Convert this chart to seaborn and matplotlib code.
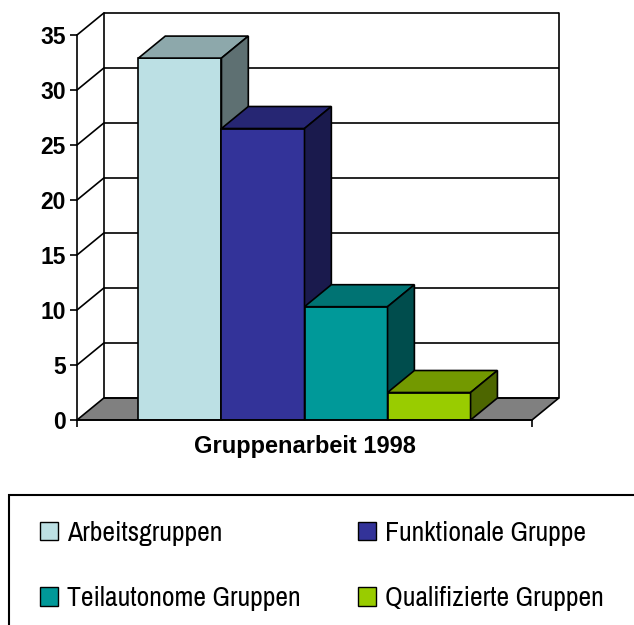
import numpy as np
import pandas as pd
import seaborn as sns
import matplotlib
matplotlib.use("Agg")
import matplotlib.pyplot as plt
from matplotlib.patches import Polygon, Patch, Rectangle
from matplotlib.colors import to_rgb

# data
category = "Gruppenarbeit 1998"
series = ["Arbeitsgruppen", "Funktionale Gruppe", "Teilautonome Gruppen", "Qualifizierte Gruppen"]
values = [32.9, 26.5, 10.3, 2.5]
y_ticks = [0, 5, 10, 15, 20, 25, 30, 35]

front_colors = ["#BCE0E4", "#333399", "#009999", "#99CC00"]

# depth of the fake 3d box in data units (x: category units, y: value units)
DX = 0.059
DY = 2.0


def shade(c, f):
    r, g, b = to_rgb(c)
    return (r * f, g * f, b * f)


def main():
    sns.set_style("white")
    plt.rcParams["font.family"] = ["Liberation Sans", "DejaVu Sans"]
    plt.rcParams["text.color"] = "black"
    plt.rcParams["xtick.color"] = "black"
    plt.rcParams["ytick.color"] = "black"

    fig = plt.figure(figsize=(6.34, 6.25), dpi=100, facecolor="white")
    ax = fig.add_axes([77 / 634, 1 - 420 / 625, 455 / 634, 385 / 625])

    df = pd.DataFrame({"cat": [category] * len(series), "series": series, "value": values})
    sns.barplot(data=df, x="cat", y="value", hue="series", hue_order=series,
                palette=front_colors, width=0.73, edgecolor="black", linewidth=1.2,
                errorbar=None, legend=False, ax=ax, saturation=1)

    ax.set_xlim(-0.5, 0.5)
    ax.set_ylim(0, 35)
    ax.set_yticks(y_ticks)
    ax.set_xlabel("")
    ax.set_ylabel("")

    lw = 1.2
    # floor of the box
    floor = Polygon([(-0.5, 0), (0.5, 0), (0.5 + DX, DY), (-0.5 + DX, DY)],
                    closed=True, facecolor="#808080", edgecolor="black", lw=lw,
                    zorder=1, clip_on=False)
    ax.add_patch(floor)

    # back wall grid and side wall diagonals
    for v in y_ticks:
        ax.plot([-0.5 + DX, 0.5 + DX], [v + DY, v + DY], color="black", lw=lw,
                zorder=1.5, clip_on=False, solid_capstyle="butt")
        if v > 0:
            ax.plot([-0.5, -0.5 + DX], [v, v + DY], color="black", lw=lw,
                    zorder=1.5, clip_on=False)
    for xe in (-0.5 + DX, 0.5 + DX):
        ax.plot([xe, xe], [DY, 35 + DY], color="black", lw=lw, zorder=1.5, clip_on=False)

    # tops and sides for the bars
    for i, bar in enumerate(ax.patches[:len(series)]):
        x0 = bar.get_x()
        w = bar.get_width()
        h = bar.get_height()
        fc = bar.get_facecolor()[:3]
        bar.set_zorder(3 + i)
        top = Polygon([(x0, h), (x0 + w, h), (x0 + w + DX, h + DY), (x0 + DX, h + DY)],
                      closed=True, facecolor=shade(fc, 0.75), edgecolor="black",
                      lw=lw, zorder=3.5 + i, clip_on=False)
        side = Polygon([(x0 + w, 0), (x0 + w + DX, DY), (x0 + w + DX, h + DY), (x0 + w, h)],
                       closed=True, facecolor=shade(fc, 0.5), edgecolor="black",
                       lw=lw, zorder=3.5 + i, clip_on=False)
        ax.add_patch(top)
        ax.add_patch(side)

    for s in ("top", "right"):
        ax.spines[s].set_visible(False)
    for s in ("left", "bottom"):
        ax.spines[s].set_color("black")
        ax.spines[s].set_linewidth(lw)
        ax.spines[s].set_zorder(10)

    ax.tick_params(axis="y", direction="out", length=5, width=lw, pad=3,
                   labelsize=16.5, left=True)
    ax.tick_params(axis="x", which="major", length=0, pad=11, labelsize=17)
    ax.set_xticks([-0.5, 0.5], minor=True)
    ax.tick_params(axis="x", which="minor", direction="out", length=5, width=lw, bottom=True)
    for lab in ax.get_yticklabels() + ax.get_xticklabels():
        lab.set_fontweight("bold")

    # legend, column-wise order like the original
    handles = [Patch(facecolor=c, edgecolor="black", lw=1) for c in front_colors]
    order = [0, 2, 1, 3]
    fig.legend([handles[k] for k in order], [series[k] for k in order],
               loc="upper left", bbox_to_anchor=(26 / 634, 1 - 507 / 625),
               ncol=2, frameon=False, borderpad=0, handlelength=0.65, handleheight=0.65,
               handletextpad=0.33, columnspacing=2.05, labelspacing=1.45,
               prop={"family": ["Archivo Narrow", "Liberation Sans"], "size": 20})
    fig.add_artist(Rectangle((9 / 634, -0.1), 1.2, 0.1 + 130 / 625, transform=fig.transFigure,
                             fill=False, edgecolor="black", lw=1.5, clip_on=False))

    fig.savefig("out.png", dpi=100, facecolor="white")
    plt.close(fig)


if __name__ == "__main__":
    main()
